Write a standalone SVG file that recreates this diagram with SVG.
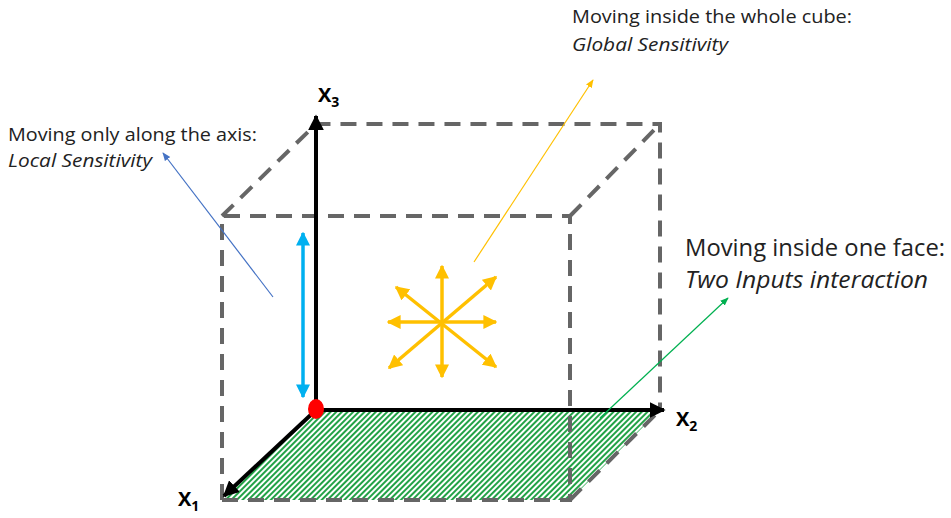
<svg xmlns="http://www.w3.org/2000/svg" width="951" height="518" viewBox="0 0 951 518">
<style>
.dash{fill:none;stroke:#666;stroke-width:4;stroke-dasharray:16 10}
.ax{stroke:#000;stroke-width:4;fill:none}
.star{stroke:#FFC000;stroke-width:3.5;fill:none}
.lbl{font-family:"Open Sans","Noto Sans",sans-serif;fill:#222}
.it{font-style:italic}
.axl{font-family:"Open Sans","Liberation Sans",sans-serif;font-weight:bold;font-size:20px;fill:#000}
</style>
<defs>
<pattern id="hatch" patternUnits="userSpaceOnUse" width="4" height="4" patternTransform="rotate(45)">
<rect width="4" height="4" fill="#fff"/>
<rect width="2" height="4" fill="#22A246"/>
</pattern>
<marker id="ak" viewBox="0 0 10 10" refX="9" refY="5" markerWidth="4" markerHeight="4" orient="auto-start-reverse"><path d="M0,0L10,5L0,10z" fill="#000"/></marker>
<marker id="ay" viewBox="0 0 10 10" refX="9" refY="5" markerWidth="4" markerHeight="4" orient="auto-start-reverse"><path d="M0,0L10,5L0,10z" fill="#FFC000"/></marker>
<marker id="ab" viewBox="0 0 10 10" refX="9" refY="5" markerWidth="4" markerHeight="4" orient="auto-start-reverse"><path d="M0,0L10,5L0,10z" fill="#00B0F0"/></marker>
<marker id="tb" viewBox="0 0 10 10" refX="9" refY="5" markerWidth="7" markerHeight="7" orient="auto"><path d="M0,1L10,5L0,9z" fill="#4472C4"/></marker>
<marker id="ty" viewBox="0 0 10 10" refX="9" refY="5" markerWidth="7" markerHeight="7" orient="auto"><path d="M0,1L10,5L0,9z" fill="#FFC000"/></marker>
<marker id="tg" viewBox="0 0 10 10" refX="9" refY="5" markerWidth="7" markerHeight="7" orient="auto"><path d="M0,1L10,5L0,9z" fill="#00B050"/></marker>
</defs>
<g id="face">
<polygon points="316,410 660,410 570,500 222,500" fill="url(#hatch)"/>
</g>
<g id="cube">
<path class="dash" d="M222,500 V216 H570 V500 H222"/>
<path class="dash" d="M222,216 L316,124 H660 V410"/>
<path class="dash" d="M570,216 L660,124"/>
<path class="dash" d="M570,500 L660,410"/>
</g>
<g id="axes">
<line class="ax" x1="316" y1="410" x2="316" y2="116" marker-end="url(#ak)"/>
<line class="ax" x1="316" y1="410" x2="664" y2="410" marker-end="url(#ak)"/>
<line class="ax" x1="316" y1="410" x2="224" y2="496" marker-end="url(#ak)"/>
<text class="axl" x="318" y="102">X<tspan font-size="14" dy="5">3</tspan></text>
<text class="axl" x="676" y="426">X<tspan font-size="14" dy="5">2</tspan></text>
<text class="axl" x="178" y="506">X<tspan font-size="14" dy="5">1</tspan></text>
</g>
<g id="origin"><ellipse cx="316" cy="409" rx="8" ry="10" fill="#FF0000"/></g>
<g id="local-arrow">
<line x1="303" y1="397" x2="303" y2="233" stroke="#00B0F0" stroke-width="3.5" marker-start="url(#ab)" marker-end="url(#ab)"/>
</g>
<g id="global-star">
<line class="star" x1="388" y1="322" x2="496" y2="322" marker-start="url(#ay)" marker-end="url(#ay)"/>
<line class="star" x1="442" y1="266" x2="442" y2="377" marker-start="url(#ay)" marker-end="url(#ay)"/>
<line class="star" x1="389" y1="368" x2="496" y2="277" marker-start="url(#ay)" marker-end="url(#ay)"/>
<line class="star" x1="396" y1="287" x2="496" y2="367" marker-start="url(#ay)" marker-end="url(#ay)"/>
</g>
<g id="connectors">
<line x1="273" y1="297" x2="163" y2="153" stroke="#4472C4" stroke-width="1.2" marker-end="url(#tb)"/>
<line x1="474" y1="262" x2="593" y2="80" stroke="#FFC000" stroke-width="1.2" marker-end="url(#ty)"/>
<line x1="600" y1="418" x2="728" y2="298" stroke="#00B050" stroke-width="1.2" marker-end="url(#tg)"/>
</g>
<g id="label-local">
<text class="lbl" x="8" y="141" font-size="18" textLength="249" lengthAdjust="spacingAndGlyphs">Moving only along the axis:</text>
<text class="lbl it" x="8" y="167" font-size="18" textLength="144" lengthAdjust="spacingAndGlyphs">Local Sensitivity</text>
</g>
<g id="label-global">
<text class="lbl" x="572" y="23" font-size="18" textLength="280" lengthAdjust="spacingAndGlyphs">Moving inside the whole cube:</text>
<text class="lbl it" x="572" y="51" font-size="18" textLength="156" lengthAdjust="spacingAndGlyphs">Global Sensitivity</text>
</g>
<g id="label-face">
<text class="lbl" x="685" y="256" font-size="23" textLength="260" lengthAdjust="spacingAndGlyphs">Moving inside one face:</text>
<text class="lbl it" x="685" y="288" font-size="23" textLength="243" lengthAdjust="spacingAndGlyphs">Two Inputs interaction</text>
</g>
</svg>
